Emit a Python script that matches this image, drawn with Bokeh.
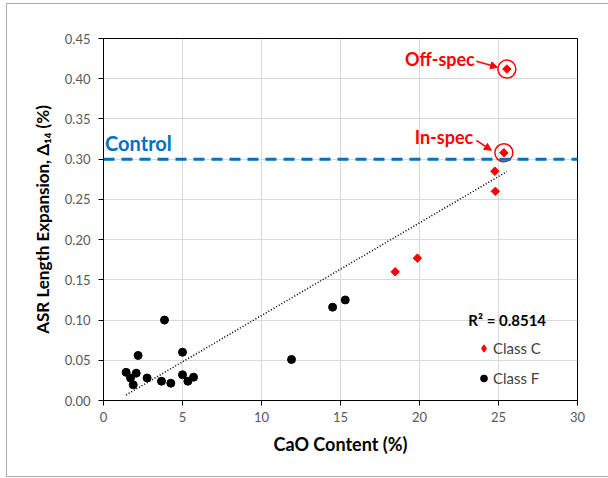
import numpy as np
from bokeh.plotting import figure
from bokeh.models import (ColumnDataSource, Span, Label, Arrow, NormalHead, Legend,
                          LegendItem, Range1d, FixedTicker)
from bokeh.embed import file_html
from bokeh.resources import INLINE

# ---- data ----
class_f_cao = [3.86, 2.19, 5.0, 1.43, 2.07, 1.71, 1.88, 2.76, 3.67, 4.26, 5.0, 5.34, 5.70, 11.9, 14.5, 15.3]
class_f_exp = [0.100, 0.056, 0.060, 0.035, 0.034, 0.028, 0.0195, 0.028, 0.024, 0.0215, 0.032, 0.024, 0.029, 0.051, 0.116, 0.125]
class_c_cao = [18.46, 19.87, 24.77, 24.80, 25.34, 25.53]
class_c_exp = [0.160, 0.177, 0.285, 0.260, 0.308, 0.412]
in_spec = (25.34, 0.308)
off_spec = (25.53, 0.412)
control_limit = 0.30
x_ticks = [0, 5, 10, 15, 20, 25, 30]
y_ticks = [0.00, 0.05, 0.10, 0.15, 0.20, 0.25, 0.30, 0.35, 0.40, 0.45]

FONT = "Lato"
RED = "#FF0000"
BLUE = "#0070C0"
BORDER = "#ababab"

p = figure(width=608, height=478, output_backend="svg", toolbar_location=None,
           x_range=Range1d(0, 30), y_range=Range1d(0, 0.45),
           min_border_left=103, min_border_right=31, min_border_top=38, min_border_bottom=78)
p.background_fill_color = "white"
p.border_fill_alpha = 0
p.outline_line_color = "black"
p.outline_line_width = 1
# outer chart border (left, top, bottom edges) drawn as host background
g = f"linear-gradient({BORDER},{BORDER})"
p.styles = {
    "background": f"{g} 6px 3px / 1px 474px no-repeat, "
                  f"{g} 6px 3px / 602px 1px no-repeat, "
                  f"{g} 6px 476px / 602px 1px no-repeat, white"
}

for ax in (p.xaxis[0], p.yaxis[0]):
    ax.axis_line_color = "black"
    ax.major_tick_line_color = "black"
    ax.minor_tick_line_color = None
    ax.major_tick_in = 0
    ax.major_tick_out = 5
    ax.major_label_text_font = FONT
    ax.major_label_text_font_size = "13px"
    ax.major_label_text_color = "#595959"
    ax.axis_label_text_font = FONT
    ax.axis_label_text_font_style = "bold"
    ax.axis_label_text_color = "black"

p.xaxis.ticker = FixedTicker(ticks=x_ticks)
p.yaxis.ticker = FixedTicker(ticks=y_ticks)
p.xaxis.major_label_overrides = {t: str(t) for t in x_ticks}
p.yaxis.major_label_overrides = {t: f"{t:.2f}" for t in y_ticks}
p.xaxis.axis_label = "CaO Content (%)"
p.yaxis.axis_label = "ASR Length Expansion, \u0394\u2081\u2084 (%)"
p.xaxis.axis_label_text_font_size = "18px"
p.yaxis.axis_label_text_font_size = "17px"
p.xaxis.major_label_standoff = 6
p.yaxis.major_label_standoff = 8
p.xaxis.axis_label_standoff = 8
p.yaxis.axis_label_standoff = 9

p.xgrid.grid_line_color = "#d9d9d9"
p.ygrid.grid_line_color = "#d9d9d9"

# control line
p.add_layout(Span(location=control_limit, dimension="width", line_color=BLUE,
                  line_width=3, line_dash="11 7"))

# trendline (linear fit on all points)
all_x = np.array(class_f_cao + class_c_cao)
all_y = np.array(class_f_exp + class_c_exp)
m, b = np.polyfit(all_x, all_y, 1)
tx = np.array([all_x.min(), all_x.max()])
p.line(tx, m * tx + b, line_color="black", line_width=1.6, line_dash="1 2")

src_f = ColumnDataSource(dict(x=class_f_cao, y=class_f_exp))
src_c = ColumnDataSource(dict(x=class_c_cao, y=class_c_exp))
rf = p.scatter("x", "y", source=src_f, marker="circle", size=8, fill_color="black", line_color="black")
rc = p.scatter("x", "y", source=src_c, marker="square", angle=np.pi / 4, size=6,
               fill_color=RED, line_color=RED)
# legend-only renderer (NaN point, not drawn) so that the legend shows a diamond
rc_leg = p.scatter(x=[float("nan")], y=[float("nan")], marker="diamond", size=8,
                   fill_color=RED, line_color=RED, line_width=1.2)

# highlight circles
p.scatter([in_spec[0], off_spec[0]], [in_spec[1], off_spec[1]], marker="circle", size=18,
          fill_alpha=0, line_color=RED, line_width=1.5)

# texts
p.add_layout(Label(x=0.1, y=0.32, text="Control", text_font=FONT, text_font_size="20px",
                   text_font_style="bold", text_color=BLUE, text_baseline="middle"))
p.add_layout(Label(x=23.5, y=0.425, text="Off-spec", text_font=FONT, text_font_size="18px",
                   text_font_style="bold", text_color=RED, text_align="right", text_baseline="middle"))
p.add_layout(Label(x=23.4, y=0.327, text="In-spec", text_font=FONT, text_font_size="18px",
                   text_font_style="bold", text_color=RED, text_align="right", text_baseline="middle"))
p.add_layout(Label(x=25.55, y=0.10, text="R\u00b2 = 0.8514", text_font=FONT, text_font_size="15px",
                   text_font_style="bold", text_color="black", text_align="center", text_baseline="middle"))

p.add_layout(Arrow(x_start=23.6, y_start=0.4216, x_end=24.94, y_end=0.4142, line_color=RED,
                   line_width=1.5, end=NormalHead(size=7, fill_color=RED, line_color=RED)))
p.add_layout(Arrow(x_start=23.6, y_start=0.3234, x_end=24.55, y_end=0.311, line_color=RED,
                   line_width=1.5, end=NormalHead(size=7, fill_color=RED, line_color=RED)))

legend = Legend(items=[LegendItem(label="Class C", renderers=[rc_leg]),
                       LegendItem(label="Class F", renderers=[rf])],
                location=(367, 7), margin=0, padding=5, spacing=10,
                glyph_width=17, glyph_height=20, label_height=20, label_standoff=1,
                label_text_font=FONT, label_text_font_size="15px", label_text_color="#404040",
                background_fill_alpha=0, border_line_alpha=0)
p.add_layout(legend)

open("out.html", "w").write(file_html(p, INLINE))
